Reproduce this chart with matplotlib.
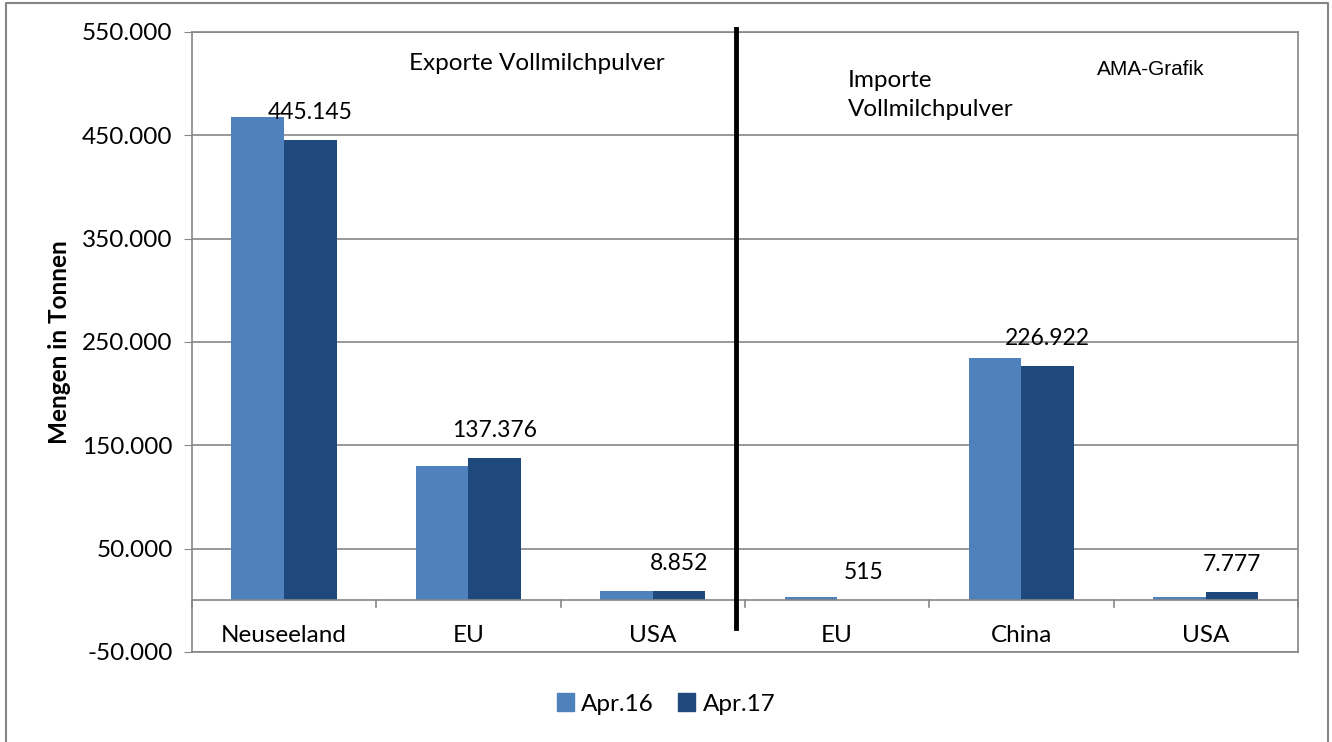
import matplotlib
matplotlib.use("Agg")
import matplotlib.pyplot as plt
from matplotlib.lines import Line2D
import numpy as np

categories = ["Neuseeland", "EU", "USA", "EU", "China", "USA"]
apr16 = [468000, 130000, 8900, 2800, 234200, 3500]
apr17 = [445145, 137376, 8852, 515, 226922, 7777]
apr17_labels = ["445.145", "137.376", "8.852", "515", "226.922", "7.777"]
series_names = ["Apr.16", "Apr.17"]
yticks = [-50000, 50000, 150000, 250000, 350000, 450000, 550000]
ytick_labels = ["-50.000", "50.000", "150.000", "250.000", "350.000", "450.000", "550.000"]

c16 = "#4F81BD"
c17 = "#1F497D"
grid_c = "#868686"

plt.rcParams['font.family'] = ['Lato', 'DejaVu Sans']
FS = 17.5

fig = plt.figure(figsize=(13.32, 7.42), dpi=100)
W, H = 1332, 742
ax = fig.add_axes([192 / W, 1 - 652 / H, (1298 - 192) / W, (652 - 32) / H])

x = np.arange(len(categories))
bw = 1 / 3.5
ax.bar(x - bw / 2, apr16, width=bw, color=c16, label=series_names[0], zorder=3)
ax.bar(x + bw / 2, apr17, width=bw, color=c17, label=series_names[1], zorder=3)

ax.set_xlim(-0.5, 5.5)
ax.set_ylim(-50000, 550000)
ax.set_yticks(yticks)
ax.set_yticklabels(ytick_labels, fontsize=FS)
ax.tick_params(axis='y', length=6, color=grid_c, pad=8)
ax.set_xticks([])
ax.yaxis.grid(True, color=grid_c, linewidth=1.2, zorder=0)
for s in ax.spines.values():
    s.set_color(grid_c)
    s.set_linewidth(1.2)

# zero axis line with category boundary ticks
ax.axhline(0, color=grid_c, linewidth=1.2, zorder=4)
for b in np.arange(-0.5, 6.0, 1.0):
    ax.plot([b, b], [0, -6000], color=grid_c, linewidth=1.2, zorder=4, clip_on=False)

# category labels near zero axis
for xi, cat in zip(x, categories):
    ax.annotate(cat, xy=(xi, 0), xytext=(0, -35), textcoords='offset pixels',
                ha='center', va='center', fontsize=FS)

# data labels for Apr.17
for xi, v, lab in zip(x, apr17, apr17_labels):
    ax.annotate(lab, xy=(xi + bw / 2, v), xytext=(0, 17), textcoords='offset pixels',
                ha='center', va='bottom', fontsize=16.5, zorder=5)

# separator line
ax.plot([2.45, 2.45], [553000, -27000], color='black', linewidth=3.5, zorder=6, clip_on=False)

ax.text(1.37, 520000, "Exporte Vollmilchpulver", ha='center', va='center', fontsize=FS)
ax.text(3.06, 489000, "Importe\nVollmilchpulver", ha='left', va='center', fontsize=FS,
        linespacing=1.5)
ax.text(4.70, 514000, "AMA-Grafik", ha='center', va='center', fontsize=15,
        family=['Liberation Sans', 'DejaVu Sans'])

ax.set_ylabel("Mengen in Tonnen", fontsize=FS, fontweight='bold')
ax.yaxis.set_label_coords(-0.109, 0.5)

handles = [plt.Rectangle((0, 0), 1, 1, color=c16), plt.Rectangle((0, 0), 1, 1, color=c17)]
fig.legend(handles, series_names, loc='center', bbox_to_anchor=(666 / W, 1 - 704 / H),
           ncol=2, frameon=False, fontsize=FS, handlelength=0.7, handleheight=0.7,
           handletextpad=0.3, columnspacing=1.0)

# outer chart border (left, top, right)
fig.add_artist(Line2D([6 / W, 6 / W, 1328 / W, 1328 / W],
                      [0, 1 - 3 / H, 1 - 3 / H, 0], transform=fig.transFigure,
                      color=grid_c, linewidth=1.5))

fig.savefig("out.png", dpi=100)
